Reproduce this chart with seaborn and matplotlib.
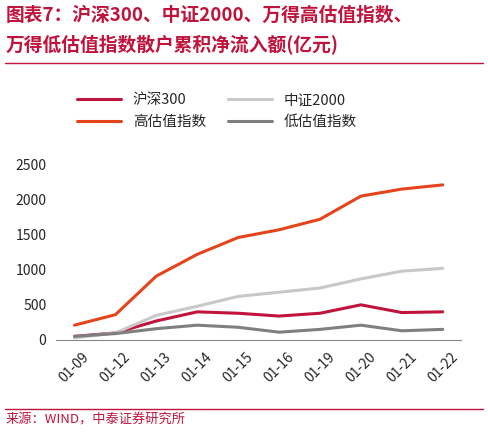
import matplotlib
matplotlib.use("Agg")
import matplotlib.pyplot as plt
import seaborn as sns
import pandas as pd

dates = ["01-09","01-12","01-13","01-14","01-15","01-16","01-19","01-20","01-21","01-22"]
hs300 = [50,100,270,400,380,340,380,500,390,400]
zz2000 = [30,100,350,480,620,680,740,870,980,1020]
high_val = [210,360,910,1220,1460,1570,1720,2050,2150,2210]
low_val = [50,90,160,210,180,110,150,210,130,150]

sns.set_style("white")
plt.rcParams['font.family'] = ['Noto Sans CJK SC', 'DejaVu Sans']

df = pd.DataFrame({"date": dates, "沪深300": hs300, "中证2000": zz2000,
                   "高估值指数": high_val, "低估值指数": low_val})
long = df.melt(id_vars="date", var_name="s", value_name="v")
palette = {"沪深300": "#C0143C", "中证2000": "#C8C8C8", "高估值指数": "#E5431C", "低估值指数": "#7F7F7F"}

fig = plt.figure(figsize=(4.88, 4.33), dpi=100)
ax = fig.add_axes([0.115, 0.215, 0.83, 0.405])
sns.lineplot(data=long, x="date", y="v", hue="s", palette=palette, linewidth=2.2, ax=ax, sort=False)
ax.set_ylim(0, 2500)
ax.set_yticks(range(0, 2501, 500))
ax.set_xlabel(""); ax.set_ylabel("")
ax.tick_params(axis='x', rotation=45, labelsize=10)
ax.tick_params(axis='y', labelsize=10)
for s in ["top", "right", "left"]:
    ax.spines[s].set_visible(False)
ax.spines["bottom"].set_color("#888888")
ax.tick_params(axis='x', length=4, color="#888888")
h, l = ax.get_legend_handles_labels()
order = [0, 2, 1, 3]
ax.legend([h[i] for i in order], [l[i] for i in order], loc="upper left",
          bbox_to_anchor=(0.02, 1.48), ncol=2, frameon=False, fontsize=10.5,
          handlelength=3, columnspacing=1.5)

fig.text(0.012, 0.965, "图表7：沪深300、中证2000、万得高估值指数、", color="#C0143C",
         fontsize=13.5, fontweight="bold", style="italic", va="center")
fig.text(0.012, 0.895, "万得低估值指数散户累积净流入额(亿元)", color="#C0143C",
         fontsize=13.5, fontweight="bold", style="italic", va="center")
fig.add_artist(plt.Line2D([0.01, 0.99], [0.855, 0.855], color="#C0143C", lw=1))
fig.add_artist(plt.Line2D([0.01, 0.99], [0.055, 0.055], color="#C0143C", lw=1))
fig.text(0.012, 0.03, "来源：WIND，中泰证券研究所", color="#C0143C", fontsize=9.5, va="center")
fig.savefig("out.png", dpi=100)
